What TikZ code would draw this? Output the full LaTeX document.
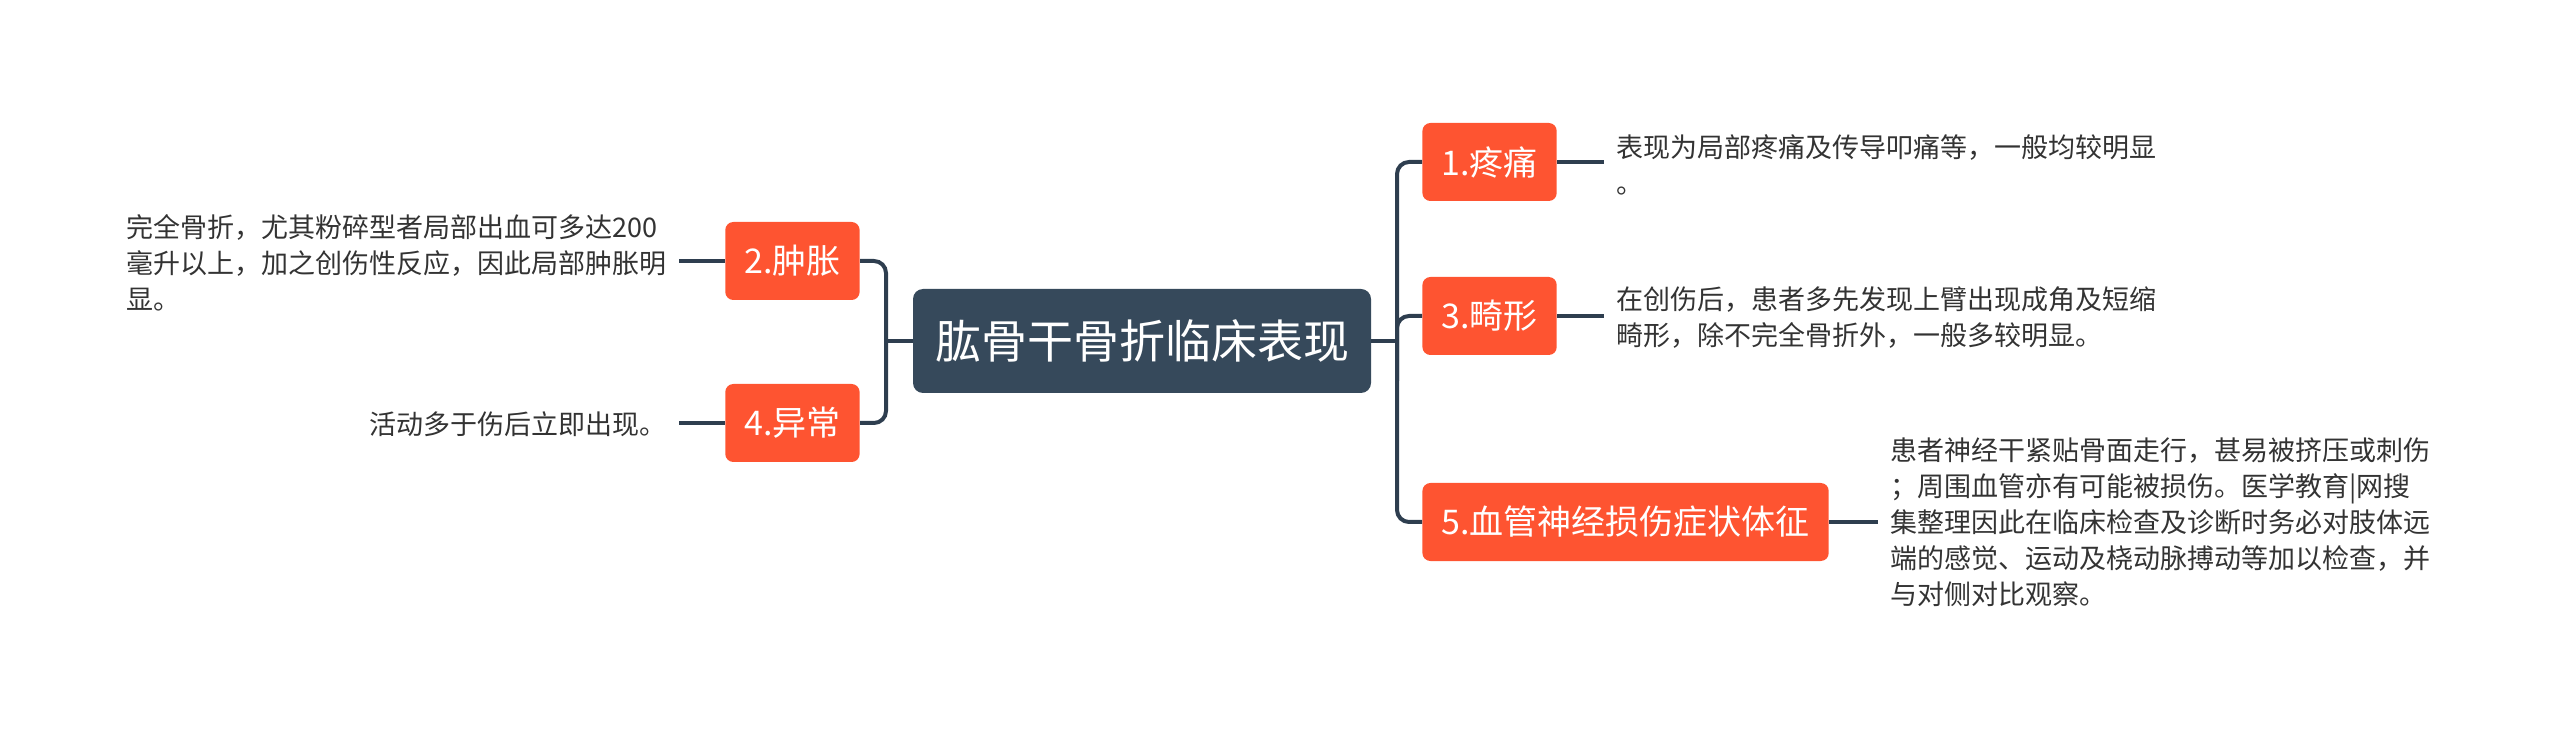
\documentclass[tikz,border=0pt]{standalone}
\usepackage{fontspec}
\setmainfont{Noto Sans CJK SC}
\usepackage{tikz}
\usetikzlibrary{calc}

\definecolor{rootblue}{HTML}{36495B}
\definecolor{topicorange}{HTML}{FE5431}
\definecolor{linedark}{HTML}{2E3E4F}
\definecolor{notegray}{HTML}{333333}

\begin{document}
\begin{tikzpicture}[x=0.5pt,y=-0.5pt,
    root/.style={fill=rootblue, text=white, rounded corners=5pt, inner xsep=11pt,
                 minimum height=52pt, font=\fontsize{23}{26}\selectfont},
    topic/.style={fill=topicorange, text=white, rounded corners=4pt, inner xsep=9.5pt,
                  minimum height=39pt, font=\fontsize{17}{20}\selectfont},
    note/.style={text=notegray, align=left, inner xsep=6pt, inner ysep=2pt,
                 font=\fontsize{13.5}{18}\selectfont},
    branch/.style={draw=linedark, line width=2pt, rounded corners=6pt}]
   \useasboundingbox (0,0) rectangle (2560,737);

   % Root
   \node[root] (root) at (1142,341) {肱骨干骨折临床表现};

   % Left topics
   \node[topic, anchor=east] (swell) at (860,261) {2.肿胀};
   \node[topic, anchor=east] (abnorm) at (860,423) {4.异常};

   % Right topics
   \node[topic, anchor=west] (pain) at (1422,162) {1.疼痛};
   \node[topic, anchor=west] (deform) at (1422,316) {3.畸形};
   \node[topic, anchor=west] (nerve) at (1422,522) {5.血管神经损伤症状体征};

   % Notes
   \node[note, anchor=east] (swellnote) at (679,263) {完全骨折，尤其粉碎型者局部出血可多达200\\毫升以上，加之创伤性反应，因此局部肿胀明\\显。};
   \node[note, anchor=east] (abnormnote) at (679,424) {活动多于伤后立即出现。};
   \node[note, anchor=west] (painnote) at (1604,165) {表现为局部疼痛及传导叩痛等，一般均较明显\\。};
   \node[note, anchor=west] (deformnote) at (1604,318) {在创伤后，患者多先发现上臂出现成角及短缩\\畸形，除不完全骨折外，一般多较明显。};
   \node[note, anchor=west] (nervenote) at (1878,522) {患者神经干紧贴骨面走行，甚易被挤压或刺伤\\；周围血管亦有可能被损伤。医学教育|网搜\\集整理因此在临床检查及诊断时务必对肢体远\\端的感觉、运动及桡动脉搏动等加以检查，并\\与对侧对比观察。};

   % Joints
   \coordinate (ljoin) at (886,341);
   \coordinate (rjoin) at (1397,341);

   % Left branches
   \draw[branch] (root.west) -- (ljoin);
   \draw[branch] (swell.east) -| (ljoin) |- (abnorm.east);

   % Right branches
   \draw[branch] (root.east) -- (rjoin);
   \draw[branch] (pain.west) -| (rjoin) |- (nerve.west);
   \draw[branch] (deform.west) -| ($(rjoin)+(0,40)$);

   % Topic to note
   \draw[branch] (swell.west) -- (swell.west -| swellnote.east);
   \draw[branch] (abnorm.west) -- (abnorm.west -| abnormnote.east);
   \draw[branch] (pain.east) -- (pain.east -| painnote.west);
   \draw[branch] (deform.east) -- (deform.east -| deformnote.west);
   \draw[branch] (nerve.east) -- (nerve.east -| nervenote.west);
\end{tikzpicture}
\end{document}
